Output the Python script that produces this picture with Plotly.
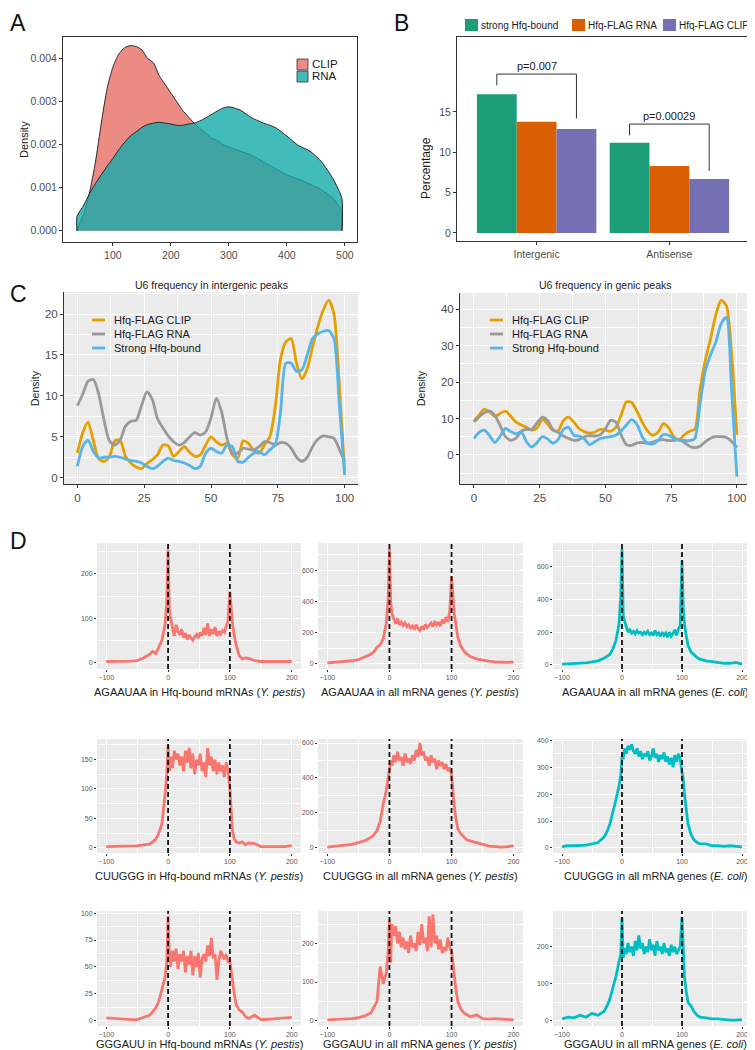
import plotly.graph_objects as go

W, H = 755, 1050
OFF = 8  # the page body margin shifts the figure by this many pixels
FONT = "Liberation Sans, Arial, Helvetica, sans-serif"
TICK_GREY = "#4d4d4d"
AXIS_DARK = "#333333"

# ---------------- Panel A : density ----------------
A_SERIES = ["CLIP", "RNA"]
A_X = [38, 50, 60, 70, 80, 90, 100, 110, 120, 130, 140, 150, 160, 170, 180, 190, 200,
       210, 220, 230, 240, 250, 260, 270, 280, 290, 300,
       320, 340, 360, 380, 400, 420, 440, 460, 480, 495]
A_CLIP = [0.00002, 0.0004, 0.0009, 0.0016, 0.0025, 0.0033, 0.0038, 0.0041, 0.00425, 0.0043,
          0.00428, 0.0042, 0.0040, 0.0039, 0.0036, 0.0034, 0.0032,
          0.0030, 0.0028, 0.00265, 0.0025, 0.00238, 0.00228, 0.00215, 0.0021, 0.0020, 0.00195,
          0.00185, 0.00175, 0.0016, 0.00145, 0.0013, 0.0012, 0.00108, 0.00095, 0.00075, 0.00045]
A_RNA = [0.00033, 0.0006, 0.00087, 0.0011, 0.0013, 0.0015, 0.00168, 0.00188, 0.00205, 0.0022,
         0.0023, 0.0024, 0.00247, 0.0025, 0.00252, 0.0025, 0.00248,
         0.00245, 0.00245, 0.00248, 0.0025, 0.00255, 0.00262, 0.0027, 0.00278, 0.00285, 0.00288,
         0.0028, 0.00262, 0.0025, 0.0024, 0.0022, 0.00198, 0.00185, 0.0016, 0.0012, 0.00075]
A_XTICKS = [100, 200, 300, 400, 500]
A_YTICKS = [0.000, 0.001, 0.002, 0.003, 0.004]

# ---------------- Panel B : bars ----------------
B_CATS = ["Intergenic", "Antisense"]
B_SERIES = ["strong Hfq-bound", "Hfq-FLAG RNA", "Hfq-FLAG CLIP"]
B_STRONG = [17.2, 11.2]
B_RNA = [13.8, 8.3]
B_CLIP = [12.9, 6.7]
B_PVALUES = ["p=0.007", "p=0.00029"]
B_BRACKET_TOP = [19.7, 13.5]
B_BRACKET_LEFT = [18.3, 12.1]
B_BRACKET_RIGHT = [14.2, 7.7]
B_YTICKS = [0, 5, 10, 15]

# ---------------- Panel C : U6 frequency ----------------
C_SERIES = ["Hfq-FLAG CLIP", "Hfq-FLAG RNA", "Strong Hfq-bound"]
C_TITLES = ["U6 frequency in intergenic peaks", "U6 frequency in genic peaks"]
C_X = [0, 2, 4, 6, 8, 10, 12, 14, 16, 18, 20, 22, 24, 26, 28, 30, 32, 34, 36, 38, 40,
       42, 44, 46, 48, 50, 52, 54, 56, 58, 60, 62, 64, 66, 68, 70, 72, 74, 76, 78, 80,
       82, 84, 86, 88, 90, 92, 94, 96, 98, 100]
C_INT_CLIP = [3.0, 5.5, 6.8, 4.5, 2.3, 2.0, 2.6, 4.5, 4.6, 2.6, 1.8, 1.3, 1.1, 1.7, 2.2, 2.8,
              4.0, 3.9, 2.6, 3.2, 3.8, 3.1, 2.6, 2.8, 4.0, 5.0, 4.4, 4.0, 4.2, 2.8, 2.4, 4.5,
              4.2, 3.3, 3.0, 4.0, 5.0, 8.5, 14.5, 16.6, 17.0, 14.0, 12.1, 13.3, 16.0, 18.5,
              20.5, 21.7, 20.0, 11.5, 0.8]
C_INT_RNA = [8.8, 10.2, 11.8, 12.0, 10.2, 7.0, 4.5, 4.0, 4.6, 6.3, 6.9, 7.0, 8.8, 10.5, 9.6,
             7.2, 6.1, 5.1, 4.4, 4.0, 4.3, 5.0, 5.5, 5.2, 5.6, 7.3, 9.7, 8.0, 4.8, 3.0, 3.0,
             3.6, 3.5, 3.4, 3.8, 4.4, 4.3, 4.0, 4.3, 4.2, 3.6, 2.5, 2.0, 2.5, 3.8, 4.7, 5.1,
             5.0, 4.8, 3.5, 2.0]
C_INT_STRONG = [1.4, 3.8, 4.6, 3.2, 2.4, 2.5, 2.5, 2.6, 2.5, 2.3, 2.1, 2.0, 1.8, 1.4, 1.1,
                1.4, 2.0, 2.4, 2.1, 2.0, 1.8, 1.5, 1.1, 1.4, 3.0, 3.6, 3.2, 3.0, 4.0, 3.8,
                2.0, 1.9, 2.5, 3.0, 3.2, 2.8, 3.4, 4.0, 8.0, 14.0, 14.0, 13.0, 13.2, 15.0,
                17.0, 17.6, 17.9, 18.0, 17.0, 9.0, 0.3]
C_GEN_CLIP = [9.3, 11.0, 12.6, 11.8, 10.6, 11.4, 12.0, 10.6, 9.0, 8.2, 7.6, 6.8, 7.4, 9.8,
              8.5, 6.8, 6.6, 9.4, 10.4, 9.0, 7.2, 6.4, 6.0, 6.3, 7.0, 6.8, 6.5, 7.6, 11.0,
              14.6, 14.4, 12.0, 9.0, 6.6, 5.4, 6.2, 8.6, 7.5, 5.0, 4.2, 5.5, 6.5, 7.0, 18.0,
              26.0, 32.0, 38.5, 42.5, 41.0, 28.0, 5.5]
C_GEN_RNA = [9.0, 10.5, 11.6, 12.0, 10.8, 8.0, 5.0, 4.0, 4.6, 6.5, 7.0, 7.0, 8.8, 10.4, 9.5,
             7.0, 6.2, 5.2, 4.5, 4.0, 4.2, 5.0, 5.3, 5.2, 5.5, 7.2, 9.5, 9.0, 5.5, 2.8, 2.6,
             3.3, 3.4, 3.2, 3.5, 4.0, 4.2, 3.9, 4.0, 4.2, 3.4, 2.4, 2.0, 2.4, 3.6, 4.6, 5.0,
             5.0, 4.8, 3.7, 2.0]
C_GEN_STRONG = [4.5, 6.2, 6.8, 5.2, 3.4, 5.2, 7.3, 6.4, 5.8, 6.3, 3.6, 2.2, 3.4, 5.0, 4.4,
                3.2, 4.2, 7.0, 7.6, 5.4, 5.2, 4.4, 2.8, 3.6, 4.5, 4.8, 5.0, 5.4, 6.6, 8.2,
                9.7, 8.4, 5.0, 3.2, 3.0, 4.0, 5.6, 5.4, 4.6, 4.0, 4.0, 3.9, 4.5, 14.0, 23.0,
                27.5, 31.0, 36.0, 37.8, 18.0, -6.0]

# ---------------- Panel D : motif position profiles ----------------
D_X = [-100, -90, -80, -70, -60, -50, -40, -30, -25, -20, -15, -10, -5, -2, 0, 2, 4,
       7, 10, 13, 16, 19, 22, 25, 28, 31, 34, 37, 40, 43, 46, 49, 52, 55, 58, 61, 64,
       67, 70, 73, 76, 79, 82, 85, 88, 91, 94, 97,
       100, 102, 104, 107, 110, 115, 120, 125, 130, 140, 150, 160, 170, 180, 190, 200]
D_R1C1 = [2, 2, 2, 3, 3, 4, 10, 18, 25, 20, 35, 50, 85, 140, 255, 120, 100,
          75, 60, 85, 70, 62, 75, 56, 66, 52, 62, 55, 50, 58, 63, 55, 68, 60, 78, 62, 88,
          60, 75, 64, 80, 60, 70, 64, 72, 68, 80, 95,
          160, 115, 90, 60, 40, 15, 8, 10, 9, 4, 2, 2, 2, 2, 2, 2]
D_R1C2 = [5, 8, 10, 12, 18, 25, 40, 60, 75, 105, 120, 160, 260, 420, 740, 400, 320,
          280, 255, 290, 250, 268, 245, 262, 238, 250, 228, 242, 218, 250, 225, 212, 240,
          218, 252, 232, 246, 260, 238, 272, 248, 266, 240, 282, 258, 300, 268, 330,
          560, 400, 330, 250, 170, 110, 80, 60, 45, 30, 20, 15, 10, 8, 8, 10]
D_R1C3 = [5, 6, 8, 10, 12, 18, 25, 40, 50, 65, 100, 150, 250, 420, 710, 300, 270,
          240, 200, 215, 195, 205, 190, 210, 195, 200, 185, 200, 190, 205, 185, 195, 180,
          210, 185, 195, 175, 200, 180, 195, 170, 200, 175, 190, 215, 180, 220, 240,
          640, 350, 250, 180, 120, 80, 60, 45, 35, 25, 20, 15, 10, 10, 15, 5]
D_R2C1 = [2, 2, 2, 2, 2, 3, 5, 6, 10, 14, 25, 40, 90, 125, 175, 130, 155,
          135, 165, 150, 160, 140, 155, 130, 165, 145, 170, 135, 160, 125, 150, 140, 160,
          130, 145, 120, 170, 140, 155, 130, 150, 125, 145, 130, 140, 120, 145, 130,
          100, 60, 30, 15, 10, 8, 10, 5, 8, 7, 2, 2, 2, 2, 2, 4]
D_R2C2 = [5, 8, 10, 15, 20, 30, 40, 60, 75, 100, 150, 250, 330, 400, 450, 500, 470,
          530, 490, 550, 500, 520, 470, 540, 490, 510, 480, 530, 500, 560, 520, 600, 530,
          550, 500, 520, 470, 530, 490, 510, 450, 500, 470, 490, 450, 480, 440, 460,
          420, 330, 250, 170, 110, 80, 60, 45, 40, 30, 20, 10, 8, 5, 8, 12]
D_R2C3 = [5, 8, 8, 10, 10, 15, 20, 40, 60, 90, 130, 180, 230, 270, 340, 330, 370,
          350, 380, 365, 385, 360, 350, 370, 340, 360, 330, 350, 340, 360, 325, 340, 370,
          335, 350, 320, 345, 330, 355, 320, 340, 310, 335, 300, 345, 320, 350, 330,
          280, 260, 200, 140, 90, 50, 30, 20, 15, 15, 8, 8, 6, 8, 5, 4]
D_R3C1 = [2.5, 2, 1.5, 1, 1, 1, 3, 5, 8, 12, 18, 28, 40, 55, 97, 60, 50,
          65, 55, 67, 48, 62, 55, 65, 45, 60, 52, 65, 42, 60, 50, 63, 40, 58, 62, 55, 70,
          60, 77, 58, 62, 38, 55, 65, 60, 57, 62, 55,
          55, 45, 35, 25, 15, 10, 8, 4, 2, 5, 1, 1, 1.5, 2, 2.5, 3]
D_R3C2 = [2, 3, 3, 5, 5, 8, 12, 20, 35, 50, 140, 95, 125, 180, 260, 150, 250,
          220, 245, 200, 230, 190, 215, 185, 205, 175, 220, 190, 200, 180, 230, 195, 250,
          200, 215, 180, 270, 190, 275, 200, 220, 185, 210, 175, 190, 180, 215, 190,
          180, 150, 110, 80, 50, 30, 20, 15, 10, 15, 5, 4, 5, 4, 3, 2]
D_R3C3 = [5, 10, 8, 15, 10, 20, 15, 25, 40, 60, 90, 120, 160, 180, 280, 170, 195,
          180, 210, 185, 200, 175, 215, 190, 230, 195, 210, 180, 200, 185, 220, 190, 205,
          175, 215, 190, 200, 180, 210, 185, 195, 175, 205, 185, 200, 180, 190, 200,
          280, 180, 120, 80, 50, 40, 25, 15, 10, 8, 5, 5, 3, 2, 2, 3]
D_MARKS = [0, 100]
D_XTICKS = [-100, 0, 100, 200]
D_CAPTIONS = [
    ["AGAAUAA in Hfq-bound mRNAs (<i>Y. pestis</i>)",
     "AGAAUAA in all mRNA genes (<i>Y. pestis</i>)",
     "AGAAUAA in all mRNA genes (<i>E. coli</i>)"],
    ["CUUGGG in Hfq-bound mRNAs (<i>Y. pestis</i>)",
     "CUUGGG in all mRNA genes (<i>Y. pestis</i>)",
     "CUUGGG in all mRNA genes (<i>E. coli</i>)"],
    ["GGGAUU in Hfq-bound mRNAs (<i>Y. pestis</i>)",
     "GGGAUU in all mRNA genes (<i>Y. pestis</i>)",
     "GGGAUU in all mRNA genes (<i>E. coli</i>)"],
]
D_YTICKS = [
    [[0, 100, 200], [0, 200, 400, 600], [0, 200, 400, 600]],
    [[0, 50, 100, 150], [0, 200, 400, 600], [0, 100, 200, 300, 400]],
    [[0, 25, 50, 75, 100], [0, 100, 200], [0, 100, 200]],
]

# ---------------- styling / layout constants ----------------
D_YRANGES = [
    [[-15, 270], [-35, 775], [-25, 745]],
    [[-9, 185], [-29, 623], [-19, 405]],
    [[-5, 102], [-14, 284], [-14, 296]],
]
D_ROWS_PX = [(543, 669), (739, 853), (911, 1026)]
D_COLS_PX = [(97, 301), (318, 523), (553, 751)]
D_CAPTION_Y = [692, 876, 1044]
D_CAPTION_X = [199, 420, 655]

PINK_FILL = "rgba(230,110,100,0.80)"
TEAL_FILL = "rgba(20,170,170,0.80)"
B_COLORS = ["#1B9E77", "#D95F02", "#7570B3"]
C_COLORS = ["#E69F00", "#999999", "#56B4E9"]
D_SALMON = "#F8766D"
D_TEAL = "#00BFC4"


def px(v):
    return (v - OFF) / W


def py(v):
    return 1 - (v - OFF) / H


def dx(a, b):
    return [px(a), px(b)]


def dy(top, bottom):
    return [py(bottom), py(top)]


fig = go.Figure()
shapes = []
annotations = []

# ---------- Panel A traces ----------
for name, vals, fill in [(A_SERIES[0], A_CLIP, PINK_FILL), (A_SERIES[1], A_RNA, TEAL_FILL)]:
    xs = [A_X[0]] + A_X + [A_X[-1]]
    ys = [0] + vals + [0]
    fig.add_trace(go.Scatter(x=xs, y=ys, mode="lines", fill="toself", fillcolor=fill,
                             line=dict(color="#1a1a1a", width=0.9, shape="spline", smoothing=0.6),
                             name=name, showlegend=False, xaxis="x", yaxis="y"))

# ---------- Panel B traces ----------
for name, vals, col in zip(B_SERIES, [B_STRONG, B_RNA, B_CLIP], B_COLORS):
    fig.add_trace(go.Bar(x=B_CATS, y=vals, name=name, marker=dict(color=col, line=dict(width=0)),
                         showlegend=False, xaxis="x2", yaxis="y2"))

# ---------- Panel C traces ----------
for ax, series in [(3, [C_INT_CLIP, C_INT_RNA, C_INT_STRONG]), (4, [C_GEN_CLIP, C_GEN_RNA, C_GEN_STRONG])]:
    for name, vals, col in zip(C_SERIES, series, C_COLORS):
        fig.add_trace(go.Scatter(x=C_X, y=vals, mode="lines", name=name,
                                 line=dict(color=col, width=2.8, shape="spline", smoothing=0.7),
                                 showlegend=False, xaxis=f"x{ax}", yaxis=f"y{ax}"))

# ---------- Panel D traces ----------
D_VALUES = [[D_R1C1, D_R1C2, D_R1C3], [D_R2C1, D_R2C2, D_R2C3], [D_R3C1, D_R3C2, D_R3C3]]
for r in range(3):
    for c in range(3):
        idx = 5 + r * 3 + c
        col = D_TEAL if c == 2 else D_SALMON
        fig.add_trace(go.Scatter(x=D_X, y=D_VALUES[r][c], mode="lines",
                                 line=dict(color=col, width=2.8),
                                 showlegend=False, xaxis=f"x{idx}", yaxis=f"y{idx}"))

layout = dict(
    width=W, height=H, margin=dict(l=0, r=0, t=0, b=0, autoexpand=False),
    paper_bgcolor="white", plot_bgcolor="white",
    font=dict(family=FONT, size=11, color="#1a1a1a"),
    barmode="group", bargap=0.1, bargroupgap=0,
    showlegend=False,
)

box_common = dict(showline=True, mirror=True, linecolor=AXIS_DARK, linewidth=1,
                  ticks="outside", ticklen=3, tickcolor=AXIS_DARK, tickwidth=1,
                  tickfont=dict(size=10.5, color=TICK_GREY), showgrid=False, zeroline=False,
                  automargin=False)

# Panel A axes
layout["xaxis"] = dict(domain=dx(63, 357), range=[14, 521], anchor="y",
                       tickvals=A_XTICKS, **box_common)
layout["yaxis"] = dict(domain=dy(37, 242), range=[-0.00026, 0.0045], anchor="x",
                       tickvals=A_YTICKS, tickformat=".3f", **box_common)
# Panel B axes
layout["xaxis2"] = dict(domain=dx(457, 749), range=[-0.6, 1.6], anchor="y2",
                        type="category", **box_common)
layout["yaxis2"] = dict(domain=dy(37, 241), range=[-1.0, 24.3], anchor="x2",
                        tickvals=B_YTICKS, **box_common)

# Panel C axes
grey_common = dict(showline=True, mirror=False, linecolor=AXIS_DARK, linewidth=1,
                   ticks="outside", ticklen=3, tickcolor=AXIS_DARK, tickwidth=1,
                   tickfont=dict(size=11.5, color=TICK_GREY), showgrid=True,
                   gridcolor="white", gridwidth=1.2, zeroline=False, automargin=False)
layout["xaxis3"] = dict(domain=dx(64, 358), range=[-5, 105], anchor="y3", tick0=0, dtick=25,
                        minor=dict(tick0=12.5, dtick=25, showgrid=True, gridcolor="white", gridwidth=0.6),
                        **grey_common)
layout["yaxis3"] = dict(domain=dy(292, 484), range=[-0.77, 22.7], anchor="x3", tick0=0, dtick=5,
                        minor=dict(tick0=2.5, dtick=5, showgrid=True, gridcolor="white", gridwidth=0.6),
                        **grey_common)
layout["xaxis4"] = dict(domain=dx(460, 750), range=[-5.3, 105], anchor="y4", tick0=0, dtick=25,
                        minor=dict(tick0=12.5, dtick=25, showgrid=True, gridcolor="white", gridwidth=0.6),
                        **grey_common)
layout["yaxis4"] = dict(domain=dy(293, 484), range=[-8, 44.5], anchor="x4", tick0=0, dtick=10,
                        minor=dict(tick0=5, dtick=10, showgrid=True, gridcolor="white", gridwidth=0.6),
                        **grey_common)

for ax in (3, 4):
    shapes.append(dict(type="rect", xref=f"x{ax} domain", yref=f"y{ax} domain",
                       x0=0, x1=1, y0=0, y1=1, fillcolor="#EBEBEB", line=dict(width=0), layer="below"))

# Panel D axes
d_common = dict(showline=False, ticks="outside", ticklen=2, tickcolor=AXIS_DARK, tickwidth=0.8,
                tickfont=dict(size=7, color="#555555"), showgrid=True, gridcolor="white",
                gridwidth=1.0, zeroline=False, automargin=False)
for r in range(3):
    for c in range(3):
        idx = 5 + r * 3 + c
        yt = D_YTICKS[r][c]
        step = yt[1] - yt[0]
        yminor = [v + step / 2 for v in yt]
        layout[f"xaxis{idx}"] = dict(domain=dx(*D_COLS_PX[c]), range=[-115, 215], anchor=f"y{idx}",
                                     tickvals=D_XTICKS,
                                     minor=dict(tickvals=[-50, 50, 150], showgrid=True,
                                                gridcolor="white", gridwidth=0.5),
                                     **d_common)
        layout[f"yaxis{idx}"] = dict(domain=dy(*D_ROWS_PX[r]), range=D_YRANGES[r][c], anchor=f"x{idx}",
                                     tickvals=yt,
                                     minor=dict(tickvals=yminor, showgrid=True,
                                                gridcolor="white", gridwidth=0.5),
                                     **d_common)
        shapes.append(dict(type="rect", xref=f"x{idx} domain", yref=f"y{idx} domain",
                           x0=0, x1=1, y0=0, y1=1, fillcolor="#EBEBEB", line=dict(width=0),
                           layer="below"))
        for m in D_MARKS:
            shapes.append(dict(type="line", xref=f"x{idx}", yref=f"y{idx} domain",
                               x0=m, x1=m, y0=0, y1=1,
                               line=dict(color="#111111", width=1.8, dash="5px,3px")))
        annotations.append(dict(text=D_CAPTIONS[r][c], x=px(D_CAPTION_X[c]), y=py(D_CAPTION_Y[r]),
                                xref="paper", yref="paper", showarrow=False,
                                xanchor="center", yanchor="middle",
                                font=dict(size=11, color="#1a1a1a")))

# ---------- Panel B brackets & p-values ----------
half = (1 - layout["bargap"]) / len(B_SERIES)
for i, ptxt in enumerate(B_PVALUES):
    xl = i - half
    xr = i + half
    top = B_BRACKET_TOP[i]
    shapes.append(dict(type="path", xref="x2", yref="y2",
                       path=f"M {xl},{B_BRACKET_LEFT[i]} L {xl},{top} L {xr},{top} L {xr},{B_BRACKET_RIGHT[i]}",
                       line=dict(color=AXIS_DARK, width=1)))
    annotations.append(dict(text=ptxt, x=i, y=top, xref="x2", yref="y2", showarrow=False,
                            xanchor="center", yanchor="bottom", yshift=0,
                            font=dict(size=11, color="#1a1a1a")))

# ---------- Legends (drawn as keys + text) ----------
# Panel A legend
for k, (name, fill) in enumerate([(A_SERIES[0], PINK_FILL), (A_SERIES[1], TEAL_FILL)]):
    top = 59 + k * 12
    shapes.append(dict(type="rect", xref="paper", yref="paper", x0=px(297), x1=px(308),
                       y0=py(top + 11), y1=py(top), fillcolor=fill,
                       line=dict(color=AXIS_DARK, width=0.8)))
    annotations.append(dict(text=name, x=px(310), y=py(top + 5), xref="paper", yref="paper",
                            showarrow=False, xanchor="left", yanchor="middle",
                            font=dict(size=11.5, color="#1a1a1a")))
# Panel B legend
B_LEG_X = [465, 572, 663]
for name, col, x0 in zip(B_SERIES, B_COLORS, B_LEG_X):
    shapes.append(dict(type="rect", xref="paper", yref="paper", x0=px(x0), x1=px(x0 + 13),
                       y0=py(31), y1=py(19), fillcolor=col, line=dict(width=0)))
    annotations.append(dict(text=name, x=px(x0 + 14), y=py(25), xref="paper", yref="paper",
                            showarrow=False, xanchor="left", yanchor="middle",
                            font=dict(size=10, color="#1a1a1a")))
# Panel C legends
for lx in (92, 490):
    for k, (name, col) in enumerate(zip(C_SERIES, C_COLORS)):
        yy = 320 + k * 14
        shapes.append(dict(type="line", xref="paper", yref="paper", x0=px(lx), x1=px(lx + 13),
                           y0=py(yy), y1=py(yy), line=dict(color=col, width=2.8)))
        annotations.append(dict(text=name, x=px(lx + 20), y=py(yy), xref="paper", yref="paper",
                                showarrow=False, xanchor="left", yanchor="middle",
                                font=dict(size=11, color="#1a1a1a")))

# ---------- Titles, axis titles, panel letters ----------
annotations.append(dict(text=C_TITLES[0], x=px(211), y=py(285), xref="paper", yref="paper",
                        showarrow=False, xanchor="center", yanchor="middle",
                        font=dict(size=10.5, color="#1a1a1a")))
annotations.append(dict(text=C_TITLES[1], x=px(605), y=py(285), xref="paper", yref="paper",
                        showarrow=False, xanchor="center", yanchor="middle",
                        font=dict(size=10.5, color="#1a1a1a")))
for text, x, y, size in [("Density", 24, 140, 11), ("Percentage", 426, 168, 12),
                         ("Density", 35, 388, 10.5), ("Density", 421, 388, 10.5)]:
    annotations.append(dict(text=text, x=px(x), y=py(y), xref="paper", yref="paper",
                            showarrow=False, textangle=-90, xanchor="center", yanchor="middle",
                            font=dict(size=size, color="#1a1a1a")))
for text, x, y in [("A", OFF, OFF), ("B", 392, OFF), ("C", OFF, 279), ("D", OFF, 526)]:
    annotations.append(dict(text=text, x=px(x), y=py(y), xref="paper", yref="paper",
                            showarrow=False, xanchor="left", yanchor="top",
                            font=dict(size=23, color="#111111")))

layout["shapes"] = shapes
layout["annotations"] = annotations
fig.update_layout(**layout)
fig.write_html("out.html")
